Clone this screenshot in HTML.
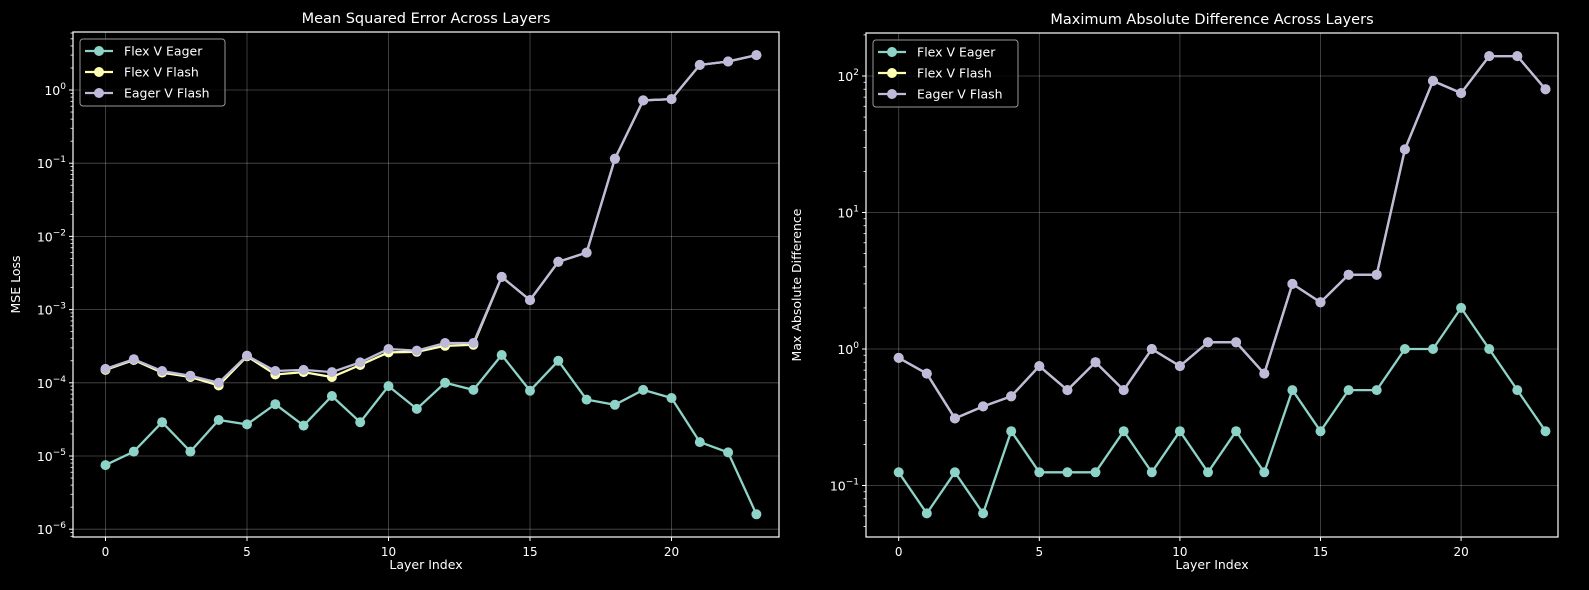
<!DOCTYPE html>
<html><head><meta charset="utf-8"><style>
html,body{margin:0;padding:0;background:#000;}
svg{display:block;font-family:"DejaVu Sans","Liberation Sans",sans-serif;}
</style></head><body>
<svg id="s" width="1589" height="590" xmlns="http://www.w3.org/2000/svg"></svg>
<script>
const S=document.getElementById('s');
let h='';
const C=['#8dd3c7','#ffffb3','#bebada'];
function plot(o){
  const X=i=>o.x0+i*o.dx, Y=v=>o.y0-(Math.log10(v)-o.d0)*o.dy;
  for(let i=0;i<=20;i+=5){h+=`<line x1="${X(i)}" y1="${o.top}" x2="${X(i)}" y2="${o.bot}" stroke="#fff" stroke-opacity="0.3" stroke-width="0.8"/>`;
    h+=`<line x1="${X(i)}" y1="${o.bot}" x2="${X(i)}" y2="${o.bot+4}" stroke="#fff"/>`;
    h+=`<text x="${X(i)}" y="${o.bot+19}" fill="#fff" font-size="12" text-anchor="middle">${i}</text>`;}
  for(let d=o.dmin;d<=o.dmax+1;d++){
    const y=Y(Math.pow(10,d));
    if(y>=o.top-0.5&&y<=o.bot+0.5){
      h+=`<line x1="${o.l}" y1="${y}" x2="${o.r}" y2="${y}" stroke="#fff" stroke-opacity="0.3" stroke-width="0.8"/>`;
      h+=`<line x1="${o.l-4}" y1="${y}" x2="${o.l}" y2="${y}" stroke="#fff"/>`;
      h+=`<text x="${o.l-7}" y="${y+5}" fill="#fff" font-size="12.5" text-anchor="end">10<tspan dy="-6" font-size="9">${d<0?'−'+(-d):d}</tspan></text>`;
    }
    for(let m=2;m<10;m++){const ym=Y(m*Math.pow(10,d));if(ym>=o.top&&ym<=o.bot)h+=`<line x1="${o.l-2.5}" y1="${ym}" x2="${o.l}" y2="${ym}" stroke="#fff" stroke-width="0.8"/>`;}
  }
  o.data.forEach((d,k)=>{
    const pts=d.map((v,i)=>`${X(i).toFixed(1)},${Y(v).toFixed(1)}`);
    h+=`<polyline points="${pts.join(' ')}" fill="none" stroke="${C[k]}" stroke-width="2.3"/>`;
    d.forEach((v,i)=>{h+=`<circle cx="${X(i).toFixed(1)}" cy="${Y(v).toFixed(1)}" r="5" fill="${C[k]}"/>`;});
  });
  h+=`<rect x="${o.l}" y="${o.top}" width="${o.r-o.l}" height="${o.bot-o.top}" fill="none" stroke="#fff" stroke-width="1.2"/>`;
  h+=`<text x="${(o.l+o.r)/2}" y="${o.top-9}" fill="#fff" font-size="14.5" text-anchor="middle">${o.title}</text>`;
  h+=`<text x="${(o.l+o.r)/2}" y="569" fill="#fff" font-size="12.5" text-anchor="middle">Layer Index</text>`;
  h+=`<text transform="translate(${o.yl},${(o.top+o.bot)/2}) rotate(-90)" fill="#fff" font-size="12.5" text-anchor="middle">${o.ylabel}</text>`;
  const lx=o.l+7,ly=o.top+7;
  h+=`<rect x="${lx}" y="${ly}" width="145" height="67" rx="3" fill="#000" fill-opacity="0.8" stroke="#999" stroke-width="1"/>`;
  ['Flex V Eager','Flex V Flash','Eager V Flash'].forEach((t,k)=>{const yy=ly+12+k*21;
    h+=`<line x1="${lx+5}" y1="${yy}" x2="${lx+33}" y2="${yy}" stroke="${C[k]}" stroke-width="2.3"/><circle cx="${lx+19}" cy="${yy}" r="5" fill="${C[k]}"/>`;
    h+=`<text x="${lx+44}" y="${yy+4.5}" fill="#fff" font-size="12.5">${t}</text>`;});
}
const fe=[7.5e-6,1.15e-5,2.9e-5,1.15e-5,3.1e-5,2.7e-5,5.1e-5,2.6e-5,6.6e-5,2.9e-5,9e-5,4.4e-5,1e-4,8e-5,2.4e-4,7.8e-5,2e-4,5.9e-5,5e-5,8e-5,6.2e-5,1.55e-5,1.12e-5,1.6e-6];
const ef=[1.55e-4,2.1e-4,1.45e-4,1.25e-4,1e-4,2.35e-4,1.45e-4,1.5e-4,1.4e-4,1.9e-4,2.9e-4,2.75e-4,3.5e-4,3.5e-4,2.8e-3,1.35e-3,4.5e-3,6e-3,0.115,0.72,0.75,2.2,2.45,3.0];
const ff=[1.5e-4,2.05e-4,1.38e-4,1.2e-4,9.2e-5,2.3e-4,1.3e-4,1.4e-4,1.2e-4,1.75e-4,2.6e-4,2.65e-4,3.2e-4,3.3e-4].concat(ef.slice(14));
plot({x0:105.5,dx:28.3,y0:90,d0:0,dy:73.2,l:73,r:779,top:32,bot:537,dmin:-7,dmax:1,title:'Mean Squared Error Across Layers',ylabel:'MSE Loss',yl:20,data:[fe,ff,ef]});
const re=[.125,.0625,.125,.0625,.25,.125,.125,.125,.25,.125,.25,.125,.25,.125,.5,.25,.5,.5,1,1,2,1,.5,.25];
const rf=[.86,.66,.31,.38,.45,.75,.5,.8,.5,1,.75,1.12,1.12,.66,3,2.2,3.5,3.5,29,92,75,140,140,80];
plot({x0:898.7,dx:28.12,y0:349,d0:0,dy:136.5,l:866,r:1558,top:33,bot:537,dmin:-2,dmax:2,title:'Maximum Absolute Difference Across Layers',ylabel:'Max Absolute Difference',yl:801,data:[re,rf,rf]});
S.innerHTML=h;
</script>
</body></html>
